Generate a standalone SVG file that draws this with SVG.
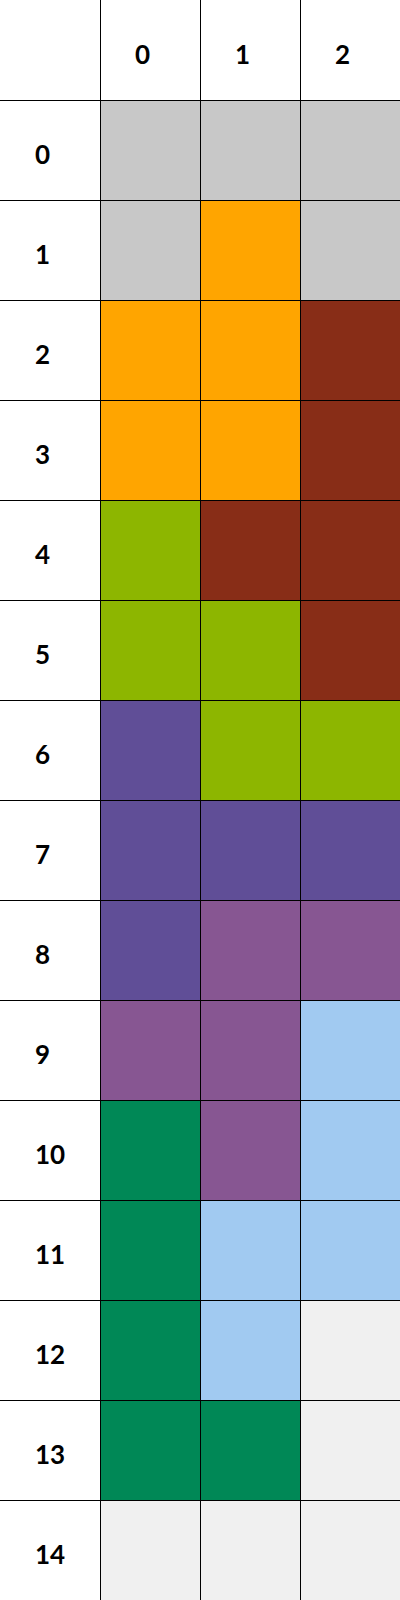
<svg xmlns="http://www.w3.org/2000/svg" width="400" height="1600" viewBox="0 0 400 1600">
<style>
text{font-family:Lato,"Noto Sans",sans-serif;font-weight:bold;font-size:26px;fill:#000}
.g{fill:#C8C8C8}.o{fill:#FFA500}.b{fill:#882D17}.y{fill:#8DB600}.v{fill:#604E97}.p{fill:#875692}.l{fill:#A1CAF1}.n{fill:#008856}.e{fill:#F0F0F0}
.ln{stroke:#000;stroke-width:1;fill:none}
</style>
<rect width="400" height="1600" fill="#fff"/>
<g id="cells">
<rect class="g" x="100" y="100" width="100" height="100"/><rect class="g" x="200" y="100" width="100" height="100"/><rect class="g" x="300" y="100" width="100" height="100"/>
<rect class="g" x="100" y="200" width="100" height="100"/><rect class="o" x="200" y="200" width="100" height="100"/><rect class="g" x="300" y="200" width="100" height="100"/>
<rect class="o" x="100" y="300" width="100" height="100"/><rect class="o" x="200" y="300" width="100" height="100"/><rect class="b" x="300" y="300" width="100" height="100"/>
<rect class="o" x="100" y="400" width="100" height="100"/><rect class="o" x="200" y="400" width="100" height="100"/><rect class="b" x="300" y="400" width="100" height="100"/>
<rect class="y" x="100" y="500" width="100" height="100"/><rect class="b" x="200" y="500" width="100" height="100"/><rect class="b" x="300" y="500" width="100" height="100"/>
<rect class="y" x="100" y="600" width="100" height="100"/><rect class="y" x="200" y="600" width="100" height="100"/><rect class="b" x="300" y="600" width="100" height="100"/>
<rect class="v" x="100" y="700" width="100" height="100"/><rect class="y" x="200" y="700" width="100" height="100"/><rect class="y" x="300" y="700" width="100" height="100"/>
<rect class="v" x="100" y="800" width="100" height="100"/><rect class="v" x="200" y="800" width="100" height="100"/><rect class="v" x="300" y="800" width="100" height="100"/>
<rect class="v" x="100" y="900" width="100" height="100"/><rect class="p" x="200" y="900" width="100" height="100"/><rect class="p" x="300" y="900" width="100" height="100"/>
<rect class="p" x="100" y="1000" width="100" height="100"/><rect class="p" x="200" y="1000" width="100" height="100"/><rect class="l" x="300" y="1000" width="100" height="100"/>
<rect class="n" x="100" y="1100" width="100" height="100"/><rect class="p" x="200" y="1100" width="100" height="100"/><rect class="l" x="300" y="1100" width="100" height="100"/>
<rect class="n" x="100" y="1200" width="100" height="100"/><rect class="l" x="200" y="1200" width="100" height="100"/><rect class="l" x="300" y="1200" width="100" height="100"/>
<rect class="n" x="100" y="1300" width="100" height="100"/><rect class="l" x="200" y="1300" width="100" height="100"/><rect class="e" x="300" y="1300" width="100" height="100"/>
<rect class="n" x="100" y="1400" width="100" height="100"/><rect class="n" x="200" y="1400" width="100" height="100"/><rect class="e" x="300" y="1400" width="100" height="100"/>
<rect class="e" x="100" y="1500" width="100" height="100"/><rect class="e" x="200" y="1500" width="100" height="100"/><rect class="e" x="300" y="1500" width="100" height="100"/>
</g>
<g id="lines" class="ln">
<path d="M100.5 0V1600M200.5 0V1600M300.5 0V1600"/>
<path d="M0 100.5H400M0 200.5H400M0 300.5H400M0 400.5H400M0 500.5H400M0 600.5H400M0 700.5H400M0 800.5H400M0 900.5H400M0 1000.5H400M0 1100.5H400M0 1200.5H400M0 1300.5H400M0 1400.5H400M0 1500.5H400"/>
</g>
<g id="labels">
<text x="135" y="64">0</text><text x="235" y="64">1</text><text x="335" y="64">2</text>
<text x="35" y="164">0</text><text x="35" y="264">1</text><text x="35" y="364">2</text><text x="35" y="464">3</text><text x="35" y="564">4</text>
<text x="35" y="664">5</text><text x="35" y="764">6</text><text x="35" y="864">7</text><text x="35" y="964">8</text><text x="35" y="1064">9</text>
<text x="35" y="1164">10</text><text x="35" y="1264">11</text><text x="35" y="1364">12</text><text x="35" y="1464">13</text><text x="35" y="1564">14</text>
</g>
</svg>
